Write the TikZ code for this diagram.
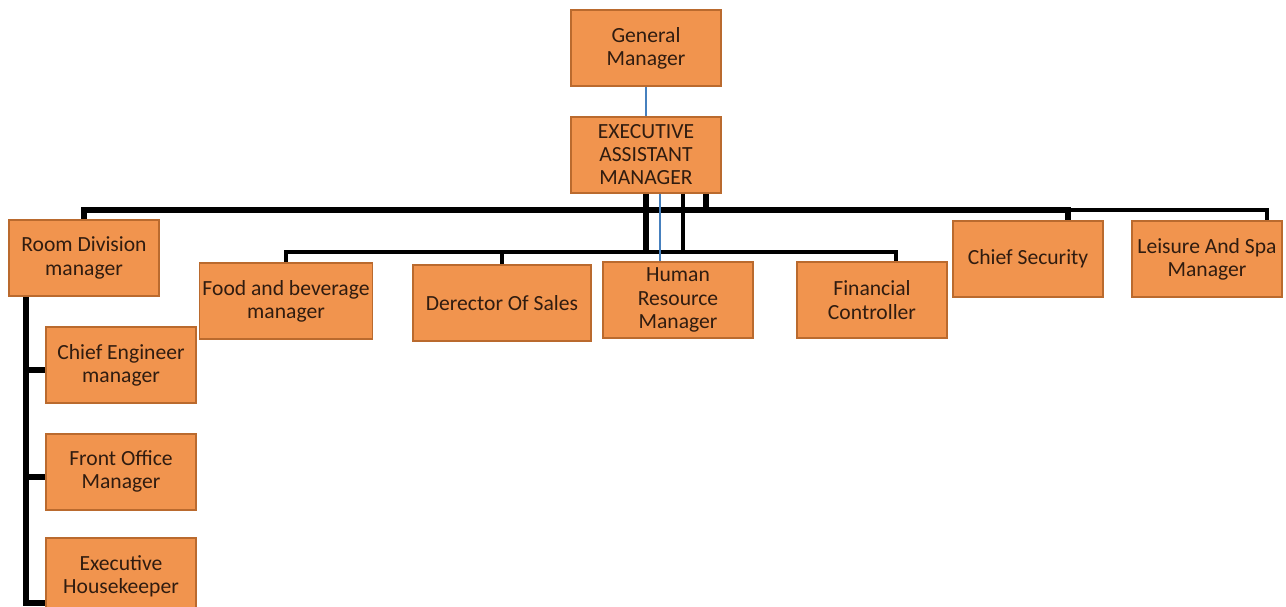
\documentclass[tikz,border=0pt]{standalone}
\usepackage{fontspec}
\setmainfont{Carlito}
\usepackage{tikz}
\usetikzlibrary{calc,positioning}

\definecolor{boxfill}{RGB}{241,148,78}
\definecolor{boxline}{RGB}{186,106,46}
\definecolor{boxtext}{RGB}{48,28,16}
\definecolor{linkblue}{RGB}{70,128,190}

\tikzset{
  post/.style={draw=boxline,fill=boxfill,line width=1.3pt,text=boxtext,
    minimum width=112.5pt,minimum height=57pt,inner sep=1pt,align=center,
    font=\fontsize{16.2}{17.4}\selectfont},
  bus/.style={draw=black,line width=4.2pt},
  thinbus/.style={draw=black,line width=2.4pt},
  bluelink/.style={draw=linkblue,line width=1.4pt}
}

\begin{document}
\begin{tikzpicture}[x=0.75pt,y=-0.75pt,node distance=21.75pt]
      \useasboundingbox (0,0) rectangle (1286,607);
      % top of the chart
      \node[post] (GM) at (646,48) {General\\Manager};
      \node[post] (EAM) [below=of GM] {EXECUTIVE\\ASSISTANT\\MANAGER};
      % first row
      \node[post] (RDM) at (84,258) {Room Division\\manager};
      \node[post] (CS) at (1028,259) {Chief Security};
      \node[post] (LSM) at (1207,259) {Leisure And Spa\\Manager};
      % second row
      \node[post,minimum width=129.75pt] (FBM) at (286,301) {Food and beverage\\manager};
      \node[post,minimum width=133.5pt] (DOS) at (502,303) {Derector Of Sales};
      \node[post] (HRM) at (678,300) {Human\\Resource\\Manager};
      \node[post] (FC) at (872,300) {Financial\\Controller};
      % under room division
      \node[post] (CEM) at (121,365) {Chief Engineer\\manager};
      \node[post] (FOM) [below=of CEM] {Front Office\\Manager};
      \node[post] (EHK) [below=20pt of FOM] {Executive\\Housekeeper};

      \coordinate (top bus) at (0,210);
      \coordinate (mid bus) at (0,252);
      \coordinate (e2) at ($(EAM.south)+(14,0)$);
      \coordinate (e3) at ($(EAM.south)+(37,0)$);
      \coordinate (e4) at ($(EAM.south)+(60,0)$);
      \coordinate (CS in) at ($(CS.north)+(40,0)$);
      \coordinate (LSM in) at ($(LSM.north)+(60,0)$);
      \coordinate (FC in) at ($(FC.north)+(24,0)$);
      \coordinate (HR in) at (e2 |- HRM.north);
      \coordinate (rd) at ($(RDM.south west)+(18,0)$);
      \coordinate (CE in) at ($(CEM.west)+(0,5)$);
      \coordinate (FO in) at ($(FOM.west)+(0,5)$);
      \coordinate (EH in) at ($(EHK.west)+(0,27)$);

      \path[bluelink] (GM) edge (EAM);
      % lines to the first row
      \draw[bus] (RDM.north) |- (top bus -| CS in) -- (CS in);
      \draw[thinbus] (top bus -| CS in) -| (LSM in);
      \draw[bus] (e4) -- (e4 |- top bus);
      % lines to the second row
      \draw[thinbus] (FBM.north) |- (mid bus -| FC in) -- (FC in);
      \draw[thinbus] (DOS.north) -- (DOS.north |- mid bus);
      \draw[line width=5pt] (EAM.south) -- (EAM.south |- mid bus);
      \draw[thinbus] (e3) -- (e3 |- mid bus);
      \draw[bluelink] (e2) -- (HR in);
      % lines under room division
      \draw[bus] (rd) |- (EH in);
      \draw[bus] (rd |- CE in) -- (CE in);
      \draw[bus] (rd |- FO in) -- (FO in);
    \end{tikzpicture}
\end{document}
